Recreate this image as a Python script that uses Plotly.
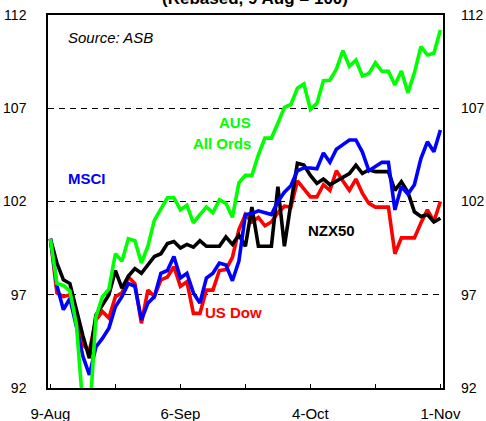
import plotly.graph_objects as go

# ---- data (index: 9 Aug = 100), daily trading days ----
days = list(range(61))
tick_idx = [0, 10, 20, 30, 40, 50, 60]
tick_labels = ["9-Aug", "", "6-Sep", "", "4-Oct", "", "1-Nov"]
y_ticks = [92, 97, 102, 107, 112]

aus_all_ords = [100.0, 97.6, 97.5, 97.2, 95.4, 91.0, 90.3, 95.8, 96.9, 97.3,
                99.2, 98.8, 100.0, 99.9, 98.7, 99.6, 101.0, 101.6, 102.2, 102.2,
                101.55, 101.8, 100.85, 101.3, 101.7, 101.4, 102.1, 101.9, 101.15, 103.0,
                103.4, 103.4, 104.5, 105.4, 105.4, 106.2, 107.05, 107.2, 108.07, 108.3,
                106.94, 107.26, 108.48, 108.5, 109.1, 110.09, 109.25, 109.58, 108.73, 108.86,
                109.44, 108.98, 108.98, 108.25, 109.0, 107.83, 108.9, 110.3, 109.86, 109.95,
                111.2]
nzx50 = [100.0, 98.7, 97.8, 97.6, 96.2, 94.8, 93.6, 95.9, 96.45, 97.0,
         98.3, 97.35, 98.0, 98.4, 98.15, 98.6, 99.05, 99.2, 99.75, 99.85,
         99.5, 99.7, 99.55, 99.9, 99.6, 99.6, 99.6, 100.1, 99.7, 100.2,
         99.6, 101.7, 99.6, 99.6, 99.6, 102.8, 99.6, 101.9, 104.05, 103.95,
         103.4, 102.97, 103.2, 102.9, 103.1, 103.35, 103.5, 103.95, 103.5, 103.7,
         103.6, 103.6, 103.6, 102.6, 103.06, 102.5, 101.45, 101.2, 101.3, 100.9,
         101.1]
msci = [100.0, 97.5, 96.2, 96.8, 95.3, 93.7, 92.7, 94.2, 94.66, 95.2,
        96.36, 96.9, 97.6, 97.45, 95.65, 96.55, 96.9, 98.15, 98.3, 99.05,
        97.9, 98.15, 97.1, 96.55, 97.9, 98.15, 98.7, 98.6, 97.75, 98.8,
        101.3, 101.35, 101.5, 101.4, 101.3, 102.0, 102.5, 102.85, 103.65, 103.8,
        103.8, 103.75, 104.6, 104.1, 104.8, 105.05, 105.3, 105.3, 104.65, 103.65,
        103.9, 104.1, 104.1, 101.55, 102.8, 102.4, 102.9, 104.3, 105.2, 104.67,
        105.83]
us_dow = [100.0, 97.1, 96.9, 97.0, 95.65, 94.3, 94.0, 95.65, 96.1, 95.75,
          96.9, 97.1, 97.95, 97.6, 95.47, 97.25, 96.9, 97.8, 97.95, 98.5,
          97.45, 97.7, 96.0, 96.0, 97.25, 97.25, 98.3, 98.35, 99.0, 100.5,
          101.3, 100.9, 101.15, 100.7, 100.9, 101.4, 101.75, 101.7, 103.1, 102.7,
          102.25, 102.25, 102.9, 102.6, 103.65, 103.1, 102.6, 103.2, 102.44, 101.9,
          101.7, 101.7, 101.7, 99.2, 100.05, 100.05, 100.05, 100.85, 101.55, 100.93,
          102.0]

FONT = "Liberation Sans, Arial, sans-serif"
LW = 3.6

fig = go.Figure()
fig.add_trace(go.Scatter(x=days, y=us_dow, mode="lines", name="US Dow",
                         line=dict(color="#FF0000", width=LW)))
fig.add_trace(go.Scatter(x=days, y=nzx50, mode="lines", name="NZX50",
                         line=dict(color="#000000", width=LW)))
fig.add_trace(go.Scatter(x=days, y=msci, mode="lines", name="MSCI",
                         line=dict(color="#0000FF", width=LW)))
fig.add_trace(go.Scatter(x=days, y=aus_all_ords, mode="lines", name="AUS All Ords",
                         line=dict(color="#00FF00", width=LW), yaxis="y2"))

yax_common = dict(range=[92, 112], tickvals=y_ticks, ticks="", automargin=False,
                  tickfont=dict(family=FONT, size=14, color="black"),
                  zeroline=False, fixedrange=True)

fig.update_layout(
    width=486, height=421,
    margin=dict(l=48, r=43, t=15, b=33, autoexpand=False),
    paper_bgcolor="white", plot_bgcolor="white",
    showlegend=False,
    font=dict(family=FONT, color="black"),
    xaxis=dict(range=[-0.37, 60.4], tickvals=tick_idx, ticktext=tick_labels,
               ticks="inside", ticklen=4, tickcolor="black", tickwidth=1,
               showgrid=False, zeroline=False, showline=True, linecolor="black",
               linewidth=1.5, mirror=True, ticklabelstandoff=11, automargin=False,
               tickfont=dict(family=FONT, size=15, color="black")),
    yaxis=dict(**yax_common, showgrid=True, gridcolor="black", gridwidth=1,
               griddash="6px,5px", showline=True, linecolor="black",
               linewidth=1.5, mirror=True, side="left", ticklabelstandoff=17),
    yaxis2=dict(**yax_common, overlaying="y", side="right", showgrid=False,
                showline=False, ticklabelstandoff=17),
)

ann_font = dict(family=FONT, size=15)
fig.add_annotation(x=0.523, y=1, xref="paper", yref="paper", xanchor="center",
                   yanchor="bottom", yshift=5, showarrow=False,
                   text="<b>(Rebased, 9 Aug = 100)</b>",
                   font=dict(family=FONT, size=17, color="black"))
fig.add_annotation(x=2.35, y=110.77, xanchor="left", yanchor="middle", showarrow=False,
                   text="<i>Source: ASB</i>", font=dict(ann_font, color="black"))
fig.add_annotation(x=31.1, y=106.26, xanchor="right", yanchor="middle", showarrow=False,
                   text="<b>AUS</b>", font=dict(ann_font, color="#00FF00"))
fig.add_annotation(x=31.1, y=105.1, xanchor="right", yanchor="middle", showarrow=False,
                   text="<b>All Ords</b>", font=dict(ann_font, color="#00FF00"))
fig.add_annotation(x=2.35, y=103.26, xanchor="left", yanchor="middle", showarrow=False,
                   text="<b>MSCI</b>", font=dict(ann_font, color="#0000FF"))
fig.add_annotation(x=39.3, y=100.47, xanchor="left", yanchor="middle", showarrow=False,
                   text="<b>NZX50</b>", font=dict(ann_font, color="#000000"))
fig.add_annotation(x=23.4, y=96.07, xanchor="left", yanchor="middle", showarrow=False,
                   text="<b>US Dow</b>", font=dict(ann_font, color="#FF0000"))

fig.write_html("out.html")
